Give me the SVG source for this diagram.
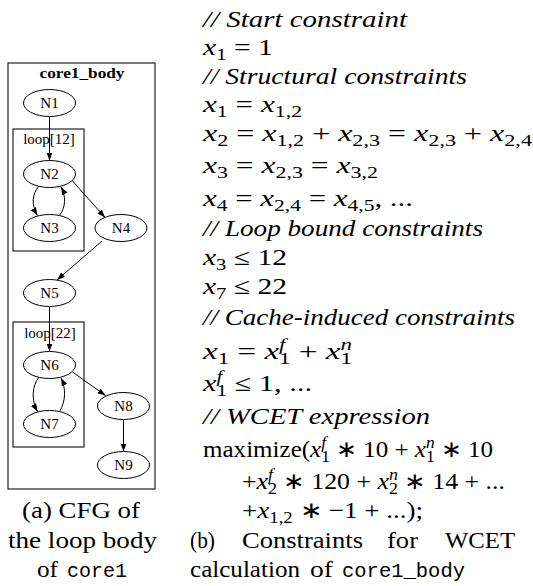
<svg xmlns="http://www.w3.org/2000/svg" width="533" height="586" viewBox="0 0 533 586">
<style>
.t{font-family:"Liberation Serif",serif;font-size:23px;fill:#000}
.i{font-style:italic}
.sm{font-size:16px}
.mono{font-family:"Liberation Mono",monospace;font-size:20px}
.g{font-family:"Liberation Serif",serif;font-size:15px;fill:#000;text-anchor:middle}
.box{fill:none;stroke:#222;stroke-width:1.2}
.e{fill:#fff;stroke:#000;stroke-width:1}
.edge{fill:none;stroke:#000;stroke-width:1;marker-end:url(#ah)}
</style>
<defs>
<marker id="ah" markerUnits="userSpaceOnUse" markerWidth="9" markerHeight="7" refX="8" refY="3" orient="auto">
<path d="M0,0 L8,3 L0,6 Z" fill="#000"/>
</marker>
</defs>
<rect width="533" height="586" fill="#fff"/>

<!-- clusters -->
<g id="cluster-core1_body">
<rect class="box" x="8" y="63" width="147" height="426"/>
<text class="g" x="82" y="78" font-weight="bold" textLength="85" lengthAdjust="spacingAndGlyphs">core1_body</text>
</g>
<g id="cluster-loop12">
<rect class="box" x="13" y="129" width="71" height="122"/>
<text class="g" x="49" y="144">loop[12]</text>
</g>
<g id="cluster-loop22">
<rect class="box" x="13" y="322" width="71" height="125"/>
<text class="g" x="50" y="338">loop[22]</text>
</g>

<!-- connectors -->
<g id="edges">
<path class="edge" d="M49.5,116.5 L49.5,160.5"/>
<path class="edge" d="M39,186 C32,194 31,205 37.5,215.5"/>
<path class="edge" d="M59.5,215.5 C66,207 66,196 61,187"/>
<path class="edge" d="M72.5,181 L105,217.4"/>
<path class="edge" d="M102,241 L57,280"/>
<path class="edge" d="M49.5,306.5 L49.5,351.5"/>
<path class="edge" d="M39,377 C32,386 31,400 37.5,411.5"/>
<path class="edge" d="M59.5,411.5 C66,401 66,388 61,378"/>
<path class="edge" d="M72.5,372 L105.5,395.5"/>
<path class="edge" d="M123.5,419.5 L123.5,451.5"/>
</g>

<!-- nodes -->
<g id="N1"><ellipse class="e" cx="49.5" cy="103" rx="26" ry="13.5"/><text class="g" x="49.5" y="108">N1</text></g>
<g id="N2"><ellipse class="e" cx="49.5" cy="174" rx="26" ry="13.5"/><text class="g" x="49.5" y="179">N2</text></g>
<g id="N3"><ellipse class="e" cx="49.5" cy="228" rx="26" ry="13.5"/><text class="g" x="49.5" y="233">N3</text></g>
<g id="N4"><ellipse class="e" cx="121" cy="228" rx="26" ry="13.5"/><text class="g" x="121" y="233">N4</text></g>
<g id="N5"><ellipse class="e" cx="49.5" cy="293" rx="26" ry="13.5"/><text class="g" x="49.5" y="298">N5</text></g>
<g id="N6"><ellipse class="e" cx="49.5" cy="365" rx="26" ry="13.5"/><text class="g" x="49.5" y="370">N6</text></g>
<g id="N7"><ellipse class="e" cx="49.5" cy="424" rx="26" ry="13.5"/><text class="g" x="49.5" y="429">N7</text></g>
<g id="N8"><ellipse class="e" cx="123.5" cy="406" rx="26" ry="13.5"/><text class="g" x="123.5" y="411">N8</text></g>
<g id="N9"><ellipse class="e" cx="123.5" cy="465" rx="26" ry="13.5"/><text class="g" x="123.5" y="470">N9</text></g>

<!-- caption (a) -->
<g id="caption-a">
<text class="t" x="81" y="518" text-anchor="middle" textLength="118" lengthAdjust="spacingAndGlyphs">(a) CFG of</text>
<text class="t" x="82.5" y="548" text-anchor="middle" textLength="149" lengthAdjust="spacingAndGlyphs">the loop body</text>
<text class="t" x="37" y="577" textLength="21" lengthAdjust="spacingAndGlyphs">of</text>
<text class="t mono" x="67" y="577" textLength="60" lengthAdjust="spacingAndGlyphs">core1</text>
</g>

<!-- constraints (b) -->
<g id="constraints">
<text class="t i" x="203" y="27" textLength="204" lengthAdjust="spacingAndGlyphs">// Start constraint</text>
<text class="t" x="203" y="55" textLength="70" lengthAdjust="spacingAndGlyphs"><tspan class="i">x</tspan><tspan class="sm" dy="5">1</tspan><tspan dy="-5"> = 1</tspan></text>
<text class="t i" x="203" y="84" textLength="264" lengthAdjust="spacingAndGlyphs">// Structural constraints</text>
<text class="t" x="203" y="112" textLength="99" lengthAdjust="spacingAndGlyphs"><tspan class="i">x</tspan><tspan class="sm" dy="5">1</tspan><tspan dy="-5"> = </tspan><tspan class="i">x</tspan><tspan class="sm" dy="5">1,2</tspan></text>
<text class="t" x="203" y="141" textLength="329" lengthAdjust="spacingAndGlyphs"><tspan class="i">x</tspan><tspan class="sm" dy="5">2</tspan><tspan dy="-5"> = </tspan><tspan class="i">x</tspan><tspan class="sm" dy="5">1,2</tspan><tspan dy="-5"> + </tspan><tspan class="i">x</tspan><tspan class="sm" dy="5">2,3</tspan><tspan dy="-5"> = </tspan><tspan class="i">x</tspan><tspan class="sm" dy="5">2,3</tspan><tspan dy="-5"> + </tspan><tspan class="i">x</tspan><tspan class="sm" dy="5">2,4</tspan></text>
<text class="t" x="203" y="173" textLength="175" lengthAdjust="spacingAndGlyphs"><tspan class="i">x</tspan><tspan class="sm" dy="5">3</tspan><tspan dy="-5"> = </tspan><tspan class="i">x</tspan><tspan class="sm" dy="5">2,3</tspan><tspan dy="-5"> = </tspan><tspan class="i">x</tspan><tspan class="sm" dy="5">3,2</tspan></text>
<text class="t" x="203" y="206" textLength="210" lengthAdjust="spacingAndGlyphs"><tspan class="i">x</tspan><tspan class="sm" dy="5">4</tspan><tspan dy="-5"> = </tspan><tspan class="i">x</tspan><tspan class="sm" dy="5">2,4</tspan><tspan dy="-5"> = </tspan><tspan class="i">x</tspan><tspan class="sm" dy="5">4,5</tspan><tspan dy="-5">, ...</tspan></text>
<text class="t i" x="203" y="236" textLength="280" lengthAdjust="spacingAndGlyphs">// Loop bound constraints</text>
<text class="t" x="203" y="265" textLength="84" lengthAdjust="spacingAndGlyphs"><tspan class="i">x</tspan><tspan class="sm" dy="5">3</tspan><tspan dy="-5"> ≤ 12</tspan></text>
<text class="t" x="203" y="294" textLength="84" lengthAdjust="spacingAndGlyphs"><tspan class="i">x</tspan><tspan class="sm" dy="5">7</tspan><tspan dy="-5"> ≤ 22</tspan></text>
<text class="t i" x="203" y="325" textLength="312" lengthAdjust="spacingAndGlyphs">// Cache-induced constraints</text>
<text class="t" x="203" y="359" textLength="149" lengthAdjust="spacingAndGlyphs"><tspan class="i">x</tspan><tspan class="sm" dy="5">1</tspan><tspan dy="-5"> = </tspan><tspan class="i">x</tspan><tspan class="sm i" dy="-9">f</tspan><tspan class="sm" dx="-4.5" dy="14">1</tspan><tspan dy="-5"> + </tspan><tspan class="i">x</tspan><tspan class="sm i" dy="-9">n</tspan><tspan class="sm" dx="-8" dy="14">1</tspan></text>
<text class="t" x="203" y="391" textLength="109" lengthAdjust="spacingAndGlyphs"><tspan class="i">x</tspan><tspan class="sm i" dy="-9">f</tspan><tspan class="sm" dx="-4.5" dy="14">1</tspan><tspan dy="-5"> ≤ 1, ...</tspan></text>
<text class="t i" x="203" y="424" textLength="227" lengthAdjust="spacingAndGlyphs">// WCET expression</text>
<text class="t" x="203" y="457" textLength="290" lengthAdjust="spacingAndGlyphs">maximize(<tspan class="i">x</tspan><tspan class="sm i" dy="-9">f</tspan><tspan class="sm" dx="-4.5" dy="14">1</tspan><tspan dy="-5"> ∗ 10 + </tspan><tspan class="i">x</tspan><tspan class="sm i" dy="-9">n</tspan><tspan class="sm" dx="-8" dy="14">1</tspan><tspan dy="-5"> ∗ 10</tspan></text>
<text class="t" x="242" y="489" textLength="263" lengthAdjust="spacingAndGlyphs">+<tspan class="i">x</tspan><tspan class="sm i" dy="-9">f</tspan><tspan class="sm" dx="-4.5" dy="14">2</tspan><tspan dy="-5"> ∗ 120 + </tspan><tspan class="i">x</tspan><tspan class="sm i" dy="-9">n</tspan><tspan class="sm" dx="-8" dy="14">2</tspan><tspan dy="-5"> ∗ 14 + ...</tspan></text>
<text class="t" x="242" y="518" textLength="181" lengthAdjust="spacingAndGlyphs">+<tspan class="i">x</tspan><tspan class="sm" dy="5">1,2</tspan><tspan dy="-5"> ∗ −1 + ...);</tspan></text>
</g>

<!-- caption (b) -->
<g id="caption-b">
<text class="t" x="190" y="548" textLength="25" lengthAdjust="spacingAndGlyphs">(b)</text>
<text class="t" x="242" y="548" textLength="121" lengthAdjust="spacingAndGlyphs">Constraints</text>
<text class="t" x="387" y="548" textLength="31" lengthAdjust="spacingAndGlyphs">for</text>
<text class="t" x="445" y="548" textLength="70" lengthAdjust="spacingAndGlyphs">WCET</text>
<text class="t" x="190" y="577" textLength="110" lengthAdjust="spacingAndGlyphs">calculation</text>
<text class="t" x="310" y="577" textLength="23" lengthAdjust="spacingAndGlyphs">of</text>
<text class="t mono" x="342" y="577" textLength="123" lengthAdjust="spacingAndGlyphs">core1_body</text>
</g>
</svg>
